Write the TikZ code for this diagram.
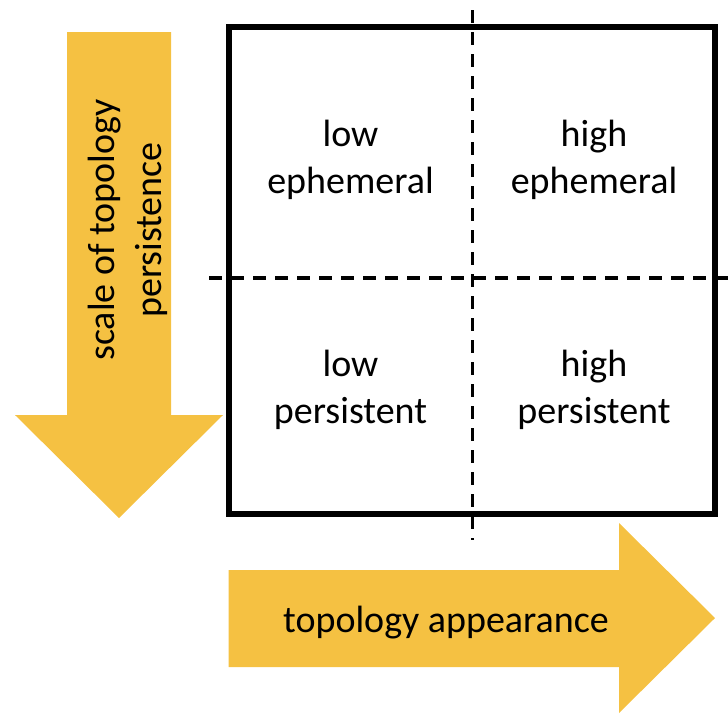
\documentclass[tikz,border=0pt]{standalone}
\usepackage{fontspec}
\setmainfont{Carlito}
\usetikzlibrary{positioning}
\definecolor{arrowgold}{RGB}{245,193,66}
\tikzset{
x=0.5pt, y=-0.5pt, % one unit is one pixel of the sketch, y runs downwards
bigarrow/.style={fill=arrowgold, draw=none}, % the two fat yellow arrows
divider/.style={line width=1.7pt, dash pattern=on 6.25pt off 4.75pt}, % the dashed cross
label/.style={align=center, inner sep=0pt, font=\fontsize{19}{23.5}\selectfont}, % all the texts
}

\begin{document}
\begin{tikzpicture}
        \useasboundingbox (0,0) rectangle (728,713);
        %% The arrows are just filled polygons, drawn first so everything else sits on top
        \fill[bigarrow] (67,32) -- (171,32) -- (171,415) -- (223,415) -- (119,518) -- (15,415) -- (67,415) -- cycle;
        \fill[bigarrow] (228.6,570) -- (619,570) -- (619,523) -- (715,618) -- (619,713) -- (619,667) -- (228.6,667) -- cycle;
        %% The square and its four quadrants
        \coordinate (topleft) at (228.5,27.3);
        \coordinate (bottomright) at (714.5,514);
        \draw[line width=3pt] (topleft) rectangle (bottomright);
        \coordinate (vtop) at (472.5,10);
        \coordinate (vbottom) at (472.5,540);
        \coordinate (hleft) at (209,278);
        \coordinate (hright) at (728,278);
        \draw[divider] (vtop) -- (vbottom);
        \draw[divider] (hleft) -- (hright);
        %% Labels
        \node[label] (lowEph) at (350.5,160) {low\\ephemeral};
        \node[label] (highEph) at (594,160) {high\\ephemeral};
        \node[label] (lowPers) at (350.5,390) {low\\persistent};
        \node[label] (highPers) at (594,390) {high\\persistent};
        \node[label, rotate=90] (scaleText) at (128,230) {scale of topology\\persistence};
        \node[label] (appearText) at (446,623) {topology appearance};
\end{tikzpicture}
\end{document}
